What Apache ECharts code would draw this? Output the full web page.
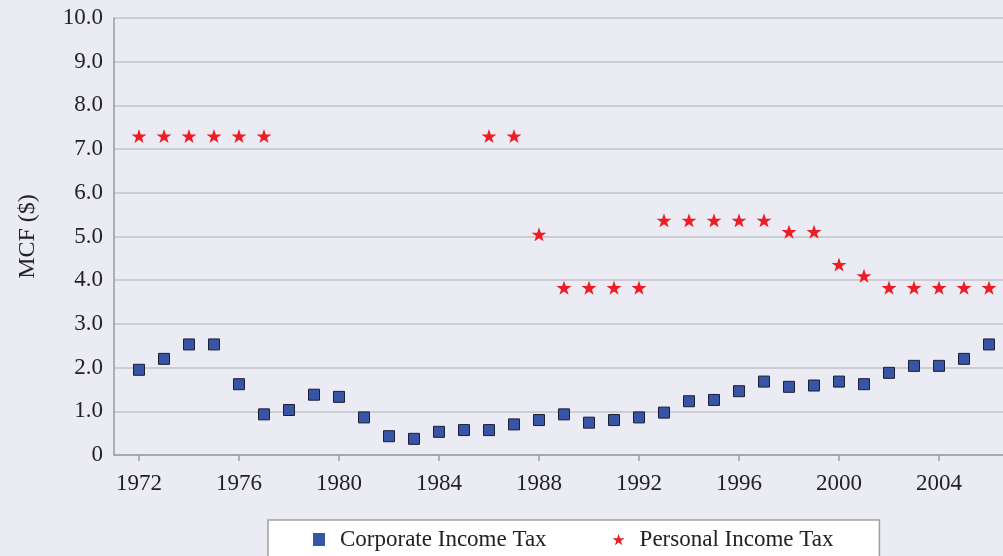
<!DOCTYPE html>
<html><head><meta charset="utf-8">
<script src="https://cdn.jsdelivr.net/npm/echarts@6/dist/echarts.min.js"></script>
<style>html,body{margin:0;padding:0;background:#EBEBF4;}#c{width:1003px;height:556px;}</style>
</head><body><div id="c"></div>
<script>
const years = [1972,1973,1974,1975,1976,1977,1978,1979,1980,1981,1982,1983,1984,1985,1986,1987,1988,1989,1990,1991,1992,1993,1994,1995,1996,1997,1998,1999,2000,2001,2002,2003,2004,2005,2006];
const corporate = [1.95,2.20,2.53,2.53,1.62,0.93,1.03,1.38,1.33,0.86,0.43,0.37,0.53,0.57,0.57,0.70,0.80,0.93,0.74,0.80,0.86,0.97,1.23,1.26,1.46,1.68,1.56,1.59,1.68,1.62,1.88,2.04,2.04,2.20,2.53];
const personal = [7.30,7.30,7.30,7.30,7.30,7.30,null,null,null,null,null,null,null,null,7.30,7.30,5.05,3.83,3.83,3.83,3.83,5.37,5.37,5.37,5.37,5.37,5.11,5.11,4.36,4.10,3.83,3.83,3.83,3.83,3.83];
const xTickLabels = [1972,1976,1980,1984,1988,1992,1996,2000,2004];
const yTicks = [0,1,2,3,4,5,6,7,8,9,10];

const star = 'path://M50,0 L61.8,35.1 L98.1,35.1 L68.8,56.8 L79.4,90.5 L50,69.9 L20.6,90.5 L31.2,56.8 L1.9,35.1 L38.2,35.1 Z';
const font = 'Liberation Serif';
const chart = echarts.init(document.getElementById('c'));
chart.setOption({
  backgroundColor: '#EBEBF4',
  animation: false,
  grid: {left: 114, right: 0, top: 18, bottom: 101},
  xAxis: {
    type: 'value', min: 1971, max: 2006.56, interval: 1,
    axisLine: {lineStyle: {color: '#9a9aa0', width: 1.5}},
    axisTick: {show: true, length: 6, customValues: xTickLabels, lineStyle: {color: '#9a9aa0', width: 1.5}},
    axisLabel: {customValues: xTickLabels, margin: 17, color: '#222', fontFamily: font, fontSize: 23,
      formatter: v => String(v)},
    splitLine: {show: false}
  },
  yAxis: {
    type: 'value', min: 0, max: 10, interval: 1,
    name: 'MCF ($)', nameLocation: 'middle', nameGap: 74,
    nameTextStyle: {color: '#222', fontFamily: font, fontSize: 24},
    axisLine: {show: true, lineStyle: {color: '#9a9aa0', width: 1.5}},
    axisTick: {show: false},
    axisLabel: {margin: 11, color: '#222', fontFamily: font, fontSize: 23,
      formatter: v => v === 0 ? '0' : v.toFixed(1)},
    splitLine: {show: true, lineStyle: {color: '#c2c2c8', width: 1.5}}
  },
  legend: {
    left: 268, top: 520,
    padding: [8, 46, 30, 45],
    backgroundColor: '#ffffff', borderColor: '#a0a0a6', borderWidth: 1.5,
    itemGap: 66, itemWidth: 12, itemHeight: 13,
    textStyle: {color: '#222', fontFamily: font, fontSize: 23, padding: [0, 0, 0, 10]},
    data: [
      {name: 'Corporate Income Tax', icon: 'rect', itemStyle: {borderWidth: 0}},
      {name: 'Personal Income Tax', icon: star}
    ]
  },
  series: [
    {name: 'Corporate Income Tax', type: 'scatter', symbol: 'rect', symbolSize: 11,
     itemStyle: {color: '#3754A6', borderColor: '#1b1f33', borderWidth: 1, opacity: 1},
     data: years.map((y, i) => [y, corporate[i]])},
    {name: 'Personal Income Tax', type: 'scatter', symbol: star, symbolSize: [15, 14],
     itemStyle: {color: '#EE1C25', opacity: 1},
     data: years.map((y, i) => personal[i] == null ? null : [y, personal[i]]).filter(d => d)}
  ]
});
</script></body></html>
